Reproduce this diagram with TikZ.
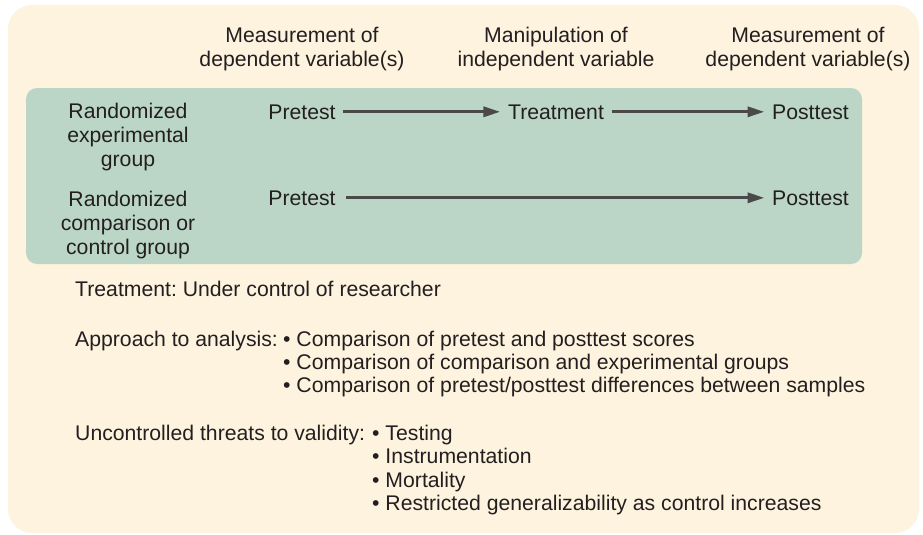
\documentclass[tikz,border=0pt]{standalone}
\usepackage{fontspec}
\setmainfont{Liberation Sans}
\usetikzlibrary{arrows.meta}
\definecolor{paper}{HTML}{FEF3DE}
\definecolor{panel}{HTML}{BBD6C6}
\definecolor{ink}{HTML}{231F20}
\definecolor{arrowgray}{HTML}{4A4A4A}
\frenchspacing
\begin{document}
\begin{tikzpicture}[x=1pt,y=-1pt,
  every node/.style={font=\fontsize{21.2}{23.5}\selectfont, text=ink, inner sep=0pt},
  head/.style={anchor=base, align=center},
  grouplabel/.style={anchor=base, align=center},
  stage/.style={anchor=base, inner xsep=7.5pt},
  line/.style={anchor=base west},
  flow/.style={draw=arrowgray, line width=3.3pt, -{Triangle[length=17pt,width=10pt]}}
]
\useasboundingbox (0,0) rectangle (923,535);

% backgrounds
\fill[paper, rounded corners=24pt] (8,5) rectangle (919,533);
\fill[panel, rounded corners=11pt] (26,88) rectangle (862,264);

% column headings
\node[head] (h1a) at (302,42.7) {Measurement of};
\node[head] (h1b) at (302,66.7) {dependent variable(s)};
\node[head] (h2a) at (556,42.7) {Manipulation of};
\node[head] (h2b) at (556,66.7) {independent variable};
\node[head] (h3a) at (808,42.7) {Measurement of};
\node[head] (h3b) at (808,66.7) {dependent variable(s)};

% group labels
\node[grouplabel] (g1a) at (128,118.5) {Randomized};
\node[grouplabel] (g1b) at (128,142.5) {experimental};
\node[grouplabel] (g1c) at (128,166.5) {group};
\node[grouplabel] (g2a) at (128,206) {Randomized};
\node[grouplabel] (g2b) at (128,230) {comparison or};
\node[grouplabel] (g2c) at (128,254) {control group};

% design rows
\node[stage] (pre1) at (302,119) {Pretest};
\node[stage] (treat) at (556,119) {Treatment};
\node[stage] (post1) at (810.5,119) {Posttest};
\node[stage] (pre2) at (302,205) {Pretest};
\node[stage] (post2) at (810.5,205) {Posttest};

\draw[flow] (pre1.east) -- (treat.west);
\draw[flow] (treat.east) -- (post1.west);
\draw[flow] ([xshift=3pt]pre2.east) -- (post2.west);

% notes
\node[line] (note1) at (75,296) {Treatment: Under control of researcher};

\node[line] (an0) at (75,346) {Approach to analysis:};
\node[line] (an1) at (283,346) {\textbullet\ Comparison of pretest and posttest scores};
\node[line] (an2) at (283,369.3) {\textbullet\ Comparison of comparison and experimental groups};
\node[line] (an3) at (283,392.6) {\textbullet\ Comparison of pretest/posttest differences between samples};

\node[line] (th0) at (75,440) {Uncontrolled threats to validity:};
\node[line] (th1) at (372,440) {\textbullet\ Testing};
\node[line] (th2) at (372,463.5) {\textbullet\ Instrumentation};
\node[line] (th3) at (372,487) {\textbullet\ Mortality};
\node[line] (th4) at (372,510.5) {\textbullet\ Restricted generalizability as control increases};
\end{tikzpicture}
\end{document}
